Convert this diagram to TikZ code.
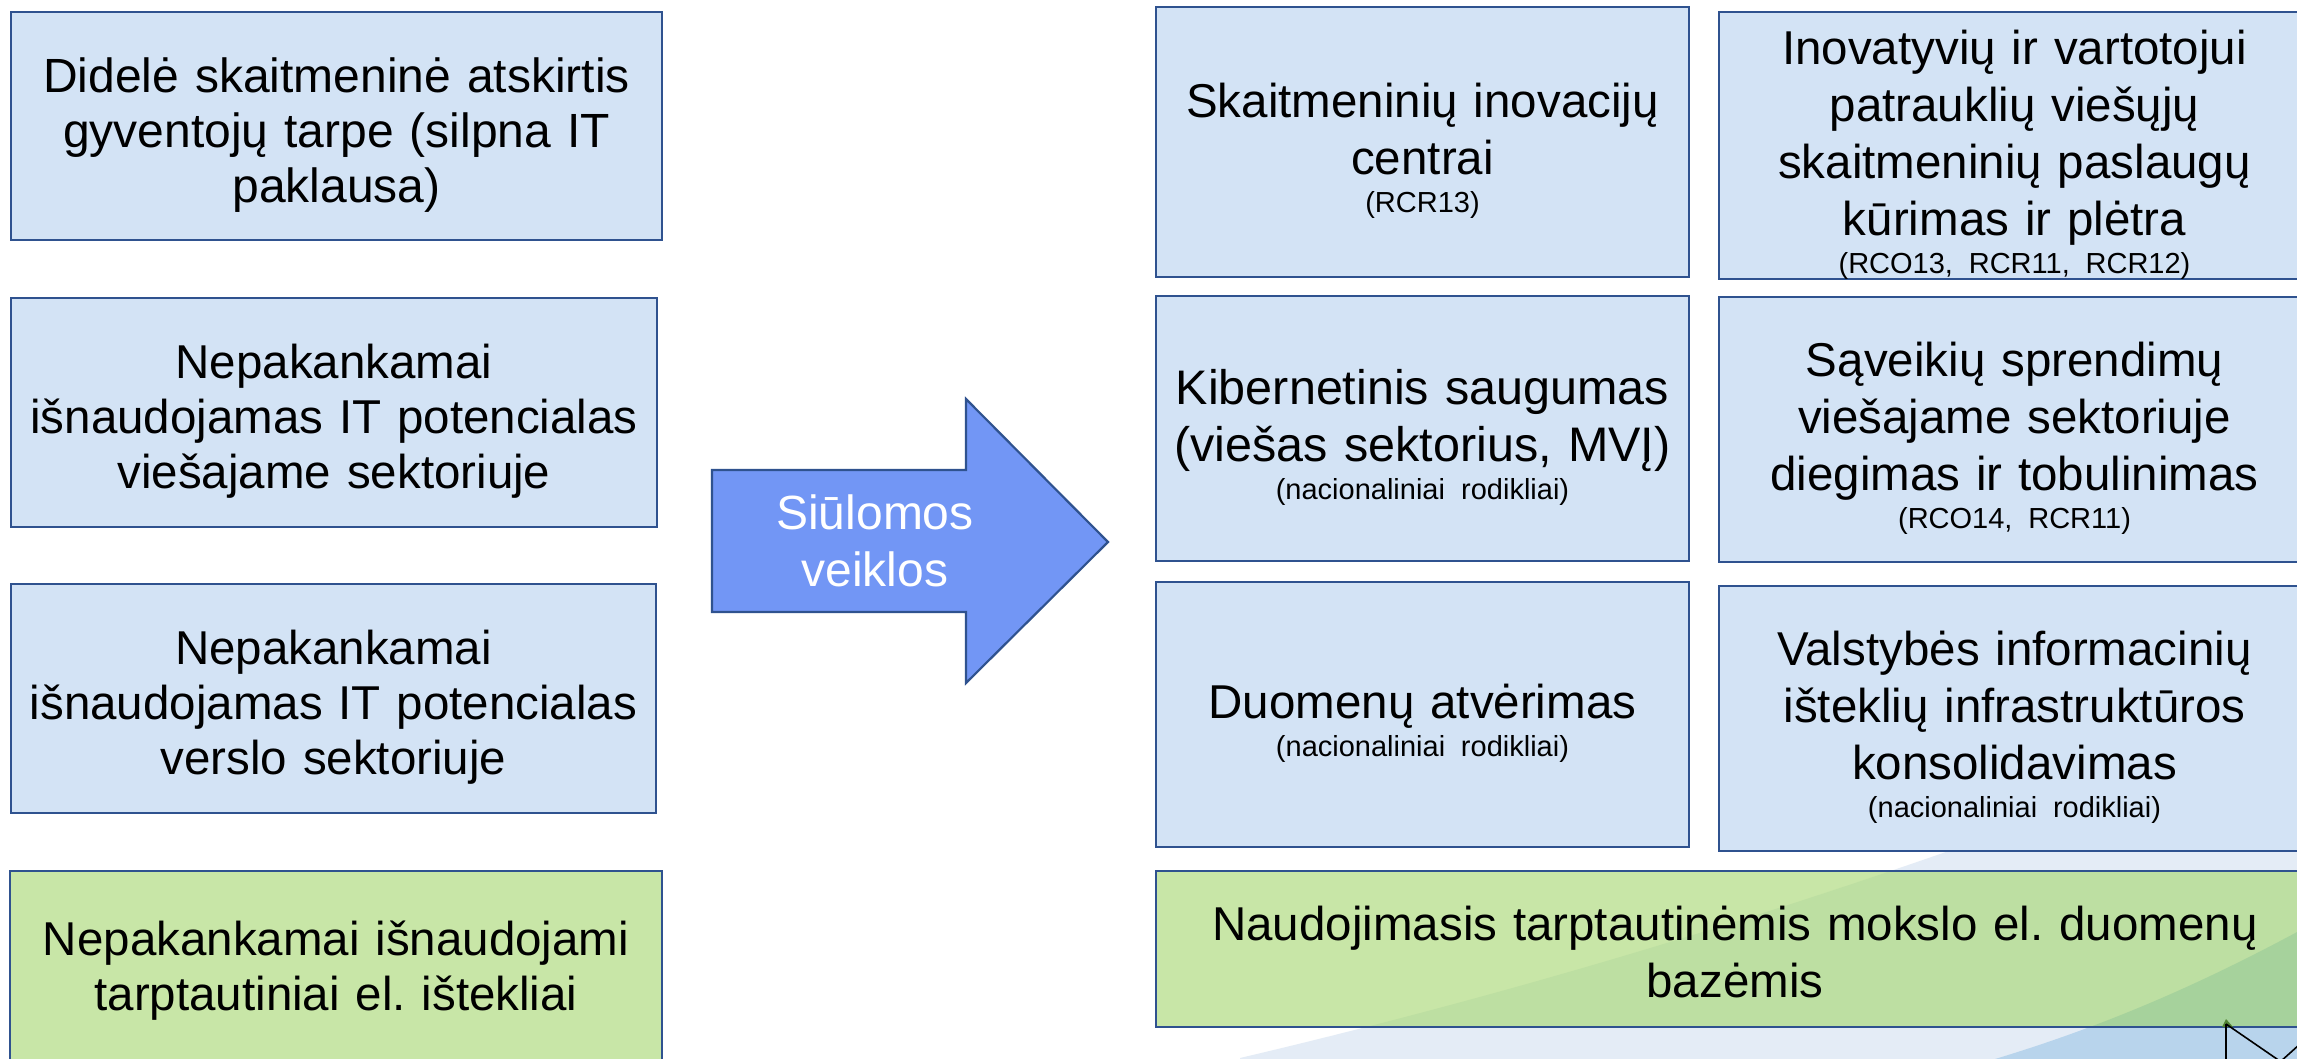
\documentclass[tikz,border=0pt]{standalone}
\usepackage{fontspec}
\setmainfont{Liberation Sans}
\definecolor{boxblue}{RGB}{211,227,245}
\definecolor{edge}{RGB}{47,82,143}
\definecolor{boxgreen}{RGB}{200,230,167}
\definecolor{greenmid}{RGB}{189,223,162}
\definecolor{greendark}{RGB}{166,210,156}
\definecolor{swlight}{RGB}{228,236,246}
\definecolor{swdark}{RGB}{184,212,236}
\definecolor{arrowfill}{RGB}{114,150,245}
\definecolor{tipgreen}{RGB}{80,130,50}
\newcommand\mainfs{\frenchspacing\fontsize{47.5}{57}\selectfont}
\newcommand\leftfs{\frenchspacing\fontsize{47.5}{55}\selectfont}
\newcommand\smallfs{\fontsize{29}{34}\selectfont}
\newcommand\ts{\rule{0pt}{1.1em}}
\newcommand\tsg{\rule{0pt}{0.85em}}
\newcommand\subl[1]{\\[-19pt]{\smallfs #1}}
\begin{document}
\begin{tikzpicture}[x=1pt,y=-1pt,
  panel/.style={draw=edge, line width=2.6pt, inner sep=0pt, align=center, font=\mainfs},
  bluebox/.style={panel, fill=boxblue},
  greenbox/.style={panel, fill=boxgreen},
  deco/.style={draw=black, line width=1.6pt}]
\useasboundingbox (0,0) rectangle (2297,1058);
\fill[white] (0,0) rectangle (2297,1058);
% background swooshes
\fill[swlight] (1240,1058) .. controls (1550,985) and (1900,880) .. (2297,720) -- (2310,715) -- (2310,1070) -- (1240,1070) -- cycle;
\fill[swdark] (1985,1062) .. controls (2100,1028) and (2200,985) .. (2310,925) -- (2310,1070) -- (1985,1070) -- cycle;

% left column
\node[bluebox, font=\frenchspacing\fontsize{48}{55}\selectfont, minimum width=651pt, minimum height=228pt, text width=640pt] (l1) at (336.5,126)
  {\ts Didelė skaitmeninė atskirtis\\gyventojų tarpe (silpna IT\\paklausa)};
\node[bluebox, font=\leftfs, minimum width=646pt, minimum height=229pt, text width=636pt] (l2) at (334,412.5)
  {\ts Nepakankamai\\išnaudojamas IT potencialas\\viešajame sektoriuje};
\node[bluebox, font=\leftfs, minimum width=645pt, minimum height=229pt, text width=636pt] (l3) at (333.5,698.5)
  {\ts Nepakankamai\\išnaudojamas IT potencialas\\verslo sektoriuje};
\node[greenbox, font=\leftfs, minimum width=652pt, minimum height=193pt, text width=640pt] (l4) at (336,967.5)
  {\tsg Nepakankamai išnaudojami\\tarptautiniai el. ištekliai};

% arrow
\draw[edge, fill=arrowfill, line width=2.2pt, line join=miter]
  (712,470) -- (966,470) -- (966,399) -- (1108,542) -- (966,683) -- (966,612) -- (712,612) -- cycle;
\node[font=\fontsize{48}{57}\selectfont, text=white, align=center, inner sep=0pt] (arrowtext) at (875,541)
  {Siūlomos\\veiklos};

% right grid
\node[bluebox, minimum width=533pt, minimum height=270pt, text width=525pt] (r1) at (1422.5,142)
  {\ts Skaitmeninių inovacijų\\centrai\subl{(RCR13)}};
\node[bluebox, minimum width=591pt, minimum height=265pt, text width=580pt] (r2) at (2014.5,145.5)
  {\ts Inovatyvių ir vartotojui\\patrauklių viešųjų\\skaitmeninių paslaugų\\kūrimas ir plėtra\subl{(RCO13, RCR11, RCR12)}};
\node[bluebox, font=\frenchspacing\fontsize{48.5}{57}\selectfont, minimum width=533pt, minimum height=265pt, text width=525pt] (r3) at (1422.5,428.5)
  {\ts Kibernetinis saugumas\\(viešas sektorius, MVĮ)\subl{(nacionaliniai rodikliai)}};
\node[bluebox, minimum width=591pt, minimum height=265pt, text width=580pt] (r4) at (2014.5,429.5)
  {\ts Sąveikių sprendimų\\viešajame sektoriuje\\diegimas ir tobulinimas\subl{(RCO14, RCR11)}};
\node[bluebox, minimum width=533pt, minimum height=265pt, text width=525pt] (r5) at (1422.5,714.5)
  {\ts Duomenų atvėrimas\subl{(nacionaliniai rodikliai)}};
\node[bluebox, minimum width=591pt, minimum height=265pt, text width=580pt] (r6) at (2014.5,718.5)
  {\ts Valstybės informacinių\\išteklių infrastruktūros\\konsolidavimas\subl{(nacionaliniai rodikliai)}};

% bottom green box with swoosh showing through
\begin{scope}
  \clip (1156,871) rectangle (2314,1027);
  \fill[boxgreen] (1156,871) rectangle (2314,1027);
  \fill[greenmid] (1240,1058) .. controls (1550,985) and (1900,880) .. (2297,720) -- (2320,715) -- (2320,1070) -- (1240,1070) -- cycle;
  \fill[greendark] (1985,1062) .. controls (2100,1028) and (2200,985) .. (2310,925) -- (2320,920) -- (2320,1070) -- (1985,1070) -- cycle;
\end{scope}
\node[panel, minimum width=1158pt, minimum height=156pt, text width=1140pt] (g2) at (1735,949)
  {\tsg Naudojimasis tarptautinėmis mokslo el. duomenų\\bazėmis};

% corner decoration
\coordinate (dv) at (2226,1024);
\coordinate (dvb) at (2226,1070);
\coordinate (dd) at (2290,1068);
\coordinate (dr) at (2300,1044);
\coordinate (drb) at (2280,1062);
\fill[tipgreen] (2222,1027) -- (2226,1019) -- (2233,1027) -- cycle;
\draw[deco] (dv) -- (dvb);
\draw[deco] (dv) -- (dd);
\draw[deco] (dr) -- (drb);
\end{tikzpicture}
\end{document}
